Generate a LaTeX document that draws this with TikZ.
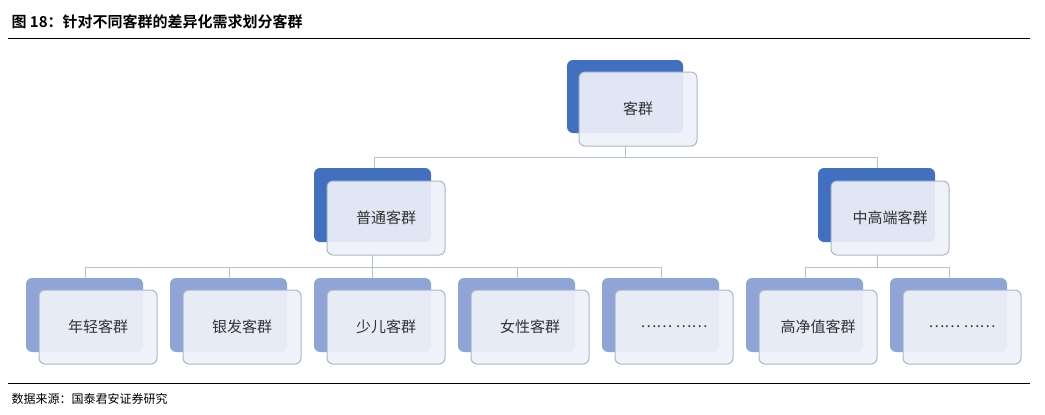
\documentclass[tikz,border=0pt]{standalone}
\usepackage{fontspec}
\setmainfont{Noto Sans CJK SC}
\newfontfamily\cjkb{Noto Sans CJK SC Bold}
\begin{document}
\begin{tikzpicture}[x=1pt,y=-1pt,
  backdark/.style={fill=bdark,rounded corners=6pt},
  backlight/.style={fill=blight,rounded corners=6pt},
  front/.style={draw=fbord,line width=1pt,fill=ffill,fill opacity=0.92,text opacity=1,rounded corners=6pt,minimum width=118pt,minimum height=74pt,font=\fontsize{15}{15}\selectfont,text=black!80},
  conn/.style={draw=cline,line width=1pt}]
\definecolor{bdark}{HTML}{4170C0}
\definecolor{blight}{HTML}{8FA5D8}
\definecolor{ffill}{HTML}{EEF1F9}
\definecolor{fbord}{HTML}{AEB6C6}
\definecolor{cline}{HTML}{B4C0D4}
\useasboundingbox (0,0) rectangle (1045,415);
\node[anchor=west,font=\cjkb\fontsize{15}{15}\selectfont] (title) at (8,22) {图 18：针对不同客群的差异化需求划分客群};
\draw[line width=0.8pt] (8,38) -- (1030,38);
\draw[line width=0.8pt] (8,383) -- (1030,383);
\node[anchor=west,font=\fontsize{12}{12}\selectfont] (src) at (8,399) {数据来源：国泰君安证券研究};
% connectors
\coordinate (r) at (625,146);
\coordinate (rh) at (625,157);
\draw[conn] (r) -- (rh);
\draw[conn] (374,157) -- (877,157);
\draw[conn] (374,157) -- (374,168);
\draw[conn] (877,157) -- (877,168);
\draw[conn] (372,255) -- (372,267);
\draw[conn] (85,267) -- (661,267);
\foreach \x in {85,229,372,517,661} \draw[conn] (\x,267) -- (\x,278);
\draw[conn] (877,255) -- (877,267);
\draw[conn] (805,267) -- (949,267);
\foreach \x in {805,949} \draw[conn] (\x,267) -- (\x,278);
% boxes
\fill[backdark] (567,60) rectangle (683,133);
\node[front] (root) at (638,109) {客群};
\fill[backdark] (314,168) rectangle (431,242);
\node[front] (pt) at (386,218) {普通客群};
\fill[backdark] (818,168) rectangle (935,242);
\node[front] (zg) at (890,218) {中高端客群};
\foreach \x/\t/\n in {26/年轻客群/a,170/银发客群/b,314/少儿客群/c,458/女性客群/d,602/…… ……/e,746/高净值客群/f,890/…… ……/g}{
  \fill[backlight] (\x,278) rectangle (\x+117,352);
  \node[front] (\n) at (\x+72,327) {\t};
}
\end{tikzpicture}
\end{document}
